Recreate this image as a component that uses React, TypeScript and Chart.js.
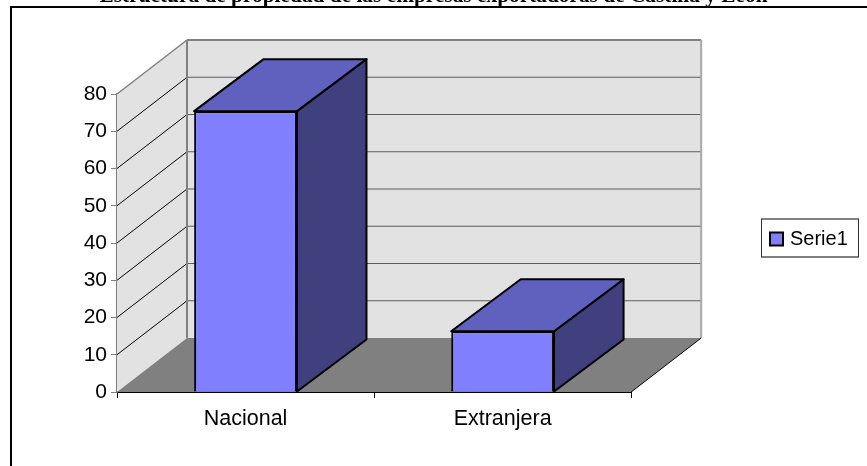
import React, { useEffect, useRef } from "react";
import { Chart, registerables } from "chart.js";

Chart.register(...registerables);

const categories = ["Nacional", "Extranjera"];
const serie1 = [75.4, 16.3];
const yTicksMax = 80;
const yTicksStep = 10;
const titleText = "Estructura de propiedad de las empresas exportadoras de Castilla y León";
const seriesName = "Serie1";

const WALL_DX = 70;
const WALL_DY = -54;
const BAR_DX = 69.5;
const BAR_DY = -52;

const plugin3d = {
  id: "plugin3d",
  beforeDraw(chart: any) {
    const { ctx, width, height } = chart;
    ctx.save();
    ctx.fillStyle = "#ffffff";
    ctx.fillRect(0, 0, width, height);
    ctx.strokeStyle = "#000000";
    ctx.lineWidth = 2;
    ctx.strokeRect(11, 7, width + 40, height + 40);
    ctx.restore();
  },
  afterLayout(chart: any) {
    const l = chart.legend;
    l.left = 765;
    l.right = 857;
    l.top = 221;
    l.bottom = 256;
    const t = chart.titleBlock;
    t.left = 0;
    t.right = chart.width;
  },
  beforeDatasetsDraw(chart: any) {
    const { ctx, chartArea: a, scales } = chart;
    const y = scales.y;
    const poly = (pts: number[][], fill: string) => {
      ctx.beginPath();
      pts.forEach((p, i) => (i ? ctx.lineTo(p[0], p[1]) : ctx.moveTo(p[0], p[1])));
      ctx.closePath();
      ctx.fillStyle = fill;
      ctx.fill();
    };
    const line = (x1: number, y1: number, x2: number, y2: number, c: string, w: number) => {
      ctx.beginPath();
      ctx.moveTo(x1, y1);
      ctx.lineTo(x2, y2);
      ctx.strokeStyle = c;
      ctx.lineWidth = w;
      ctx.stroke();
    };
    const { left: L, right: R, top: T, bottom: B } = a;
    const dx = WALL_DX;
    const dy = WALL_DY;
    ctx.save();
    poly([[L, B], [L + dx, B + dy], [L + dx, T + dy], [L, T]], "#E2E2E2");
    poly([[L + dx, T + dy], [R + dx, T + dy], [R + dx, B + dy], [L + dx, B + dy]], "#E2E2E2");
    poly([[L, B], [L + dx, B + dy], [R + dx, B + dy], [R, B]], "#808080");
    for (let v = yTicksStep; v < yTicksMax; v += yTicksStep) {
      const p = y.getPixelForValue(v);
      line(L, p, L + dx, p + dy, "#000000", 1);
      line(L + dx, p + dy, R + dx, p + dy, "#5c5c5c", 1.2);
    }
    line(L, T, L + dx, T + dy, "#808080", 1.5);
    line(L + dx, T + dy, R + dx, T + dy, "#808080", 2);
    line(L + dx, T + dy, L + dx, B + dy, "#808080", 2);
    line(R + dx, T + dy, R + dx, B + dy, "#A8A8A8", 2);
    line(R, B, R + dx, B + dy, "#000000", 1);

    const meta = chart.getDatasetMeta(0);
    ctx.lineJoin = "round";
    meta.data.forEach((el: any) => {
      const xL = el.x - el.width / 2;
      const xR = el.x + el.width / 2;
      const ty = el.y;
      const by = el.base;
      const outline = (pts: number[][], fill: string) => {
        poly(pts, fill);
        ctx.strokeStyle = "#000000";
        ctx.lineWidth = 2;
        ctx.stroke();
      };
      outline([[xR, ty], [xR + BAR_DX, ty + BAR_DY], [xR + BAR_DX, by + BAR_DY], [xR, by]], "#40407F");
      outline([[xL, ty], [xL + BAR_DX, ty + BAR_DY], [xR + BAR_DX, ty + BAR_DY], [xR, ty]], "#6060BF");
    });
    ctx.restore();
  },
  afterDraw(chart: any) {
    const { ctx } = chart;
    const l = chart.legend;
    ctx.save();
    ctx.strokeStyle = "#808080";
    ctx.lineWidth = 2;
    ctx.beginPath();
    ctx.moveTo(l.left - 4, l.top - 2);
    ctx.lineTo(l.right + 2, l.top - 2);
    ctx.moveTo(l.left - 4, l.bottom + 1);
    ctx.lineTo(l.right + 2, l.bottom + 1);
    ctx.stroke();
    ctx.strokeStyle = "#333333";
    ctx.lineWidth = 1;
    ctx.beginPath();
    ctx.moveTo(l.left - 3.5, l.top - 2);
    ctx.lineTo(l.left - 3.5, l.bottom + 1);
    ctx.moveTo(l.right + 1.5, l.top - 2);
    ctx.lineTo(l.right + 1.5, l.bottom + 1);
    ctx.stroke();
    ctx.restore();
  },
};

export default function App() {
  const ref = useRef<HTMLCanvasElement>(null);
  useEffect(() => {
    const chart = new Chart(ref.current!, {
      type: "bar",
      data: {
        labels: categories,
        datasets: [
          {
            label: seriesName,
            data: serie1,
            backgroundColor: "#8080FF",
            borderColor: "#000000",
            borderWidth: 2,
            categoryPercentage: 1,
            barPercentage: 0.4,
          },
        ],
      },
      options: {
        responsive: false,
        animation: false,
        layout: { padding: { left: 0, top: 0, right: 143, bottom: 0 } },
        plugins: {
          title: {
            display: true,
            text: titleText,
            color: "#000000",
            font: { family: "'Liberation Serif'", size: 21.35, weight: "bold" },
            padding: { top: -16.8, bottom: 85.2 },
          },
          legend: {
            display: true,
            position: "right",
            align: "start",
            labels: {
              usePointStyle: true,
              pointStyle: "rect",
              boxWidth: 7,
              boxHeight: 13,
              padding: 8,
              color: "#000000",
              font: { family: "'Liberation Sans'", size: 20 },
            },
          },
          tooltip: { enabled: false },
        },
        scales: {
          x: {
            afterFit: (s: any) => {
              s.height = 74;
            },
            grid: { offset: true, drawOnChartArea: false, tickLength: 6, color: "#000000", tickWidth: 1 },
            border: { color: "#000000", width: 2 },
            ticks: { color: "#000000", padding: 8, font: { family: "'Liberation Sans'", size: 21.5 }, maxRotation: 0 },
          },
          y: {
            min: 0,
            max: yTicksMax,
            afterFit: (s: any) => {
              s.width = 117;
            },
            grid: { drawOnChartArea: false, tickLength: 6, color: "#808080", tickWidth: 1 },
            border: { color: "#808080", width: 1.5 },
            ticks: { stepSize: yTicksStep, color: "#000000", padding: 4, font: { family: "'Liberation Sans'", size: 21 } },
          },
        },
      },
      plugins: [plugin3d],
    } as any);
    return () => chart.destroy();
  }, []);
  return (
    <canvas
      ref={ref}
      width={867}
      height={466}
      style={{ position: "absolute", left: 0, top: 0, width: 867, height: 466, display: "block" }}
    />
  );
}
